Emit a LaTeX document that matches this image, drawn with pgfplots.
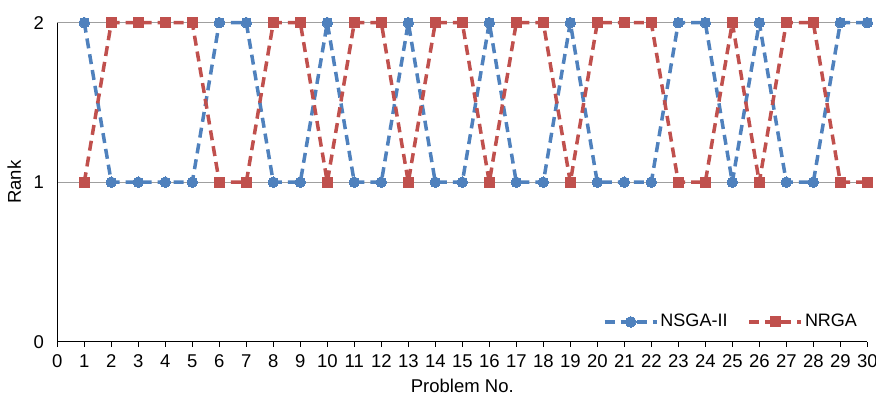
\documentclass[border=0pt]{standalone}
\usepackage{fontspec}
\setmainfont{Liberation Sans}
\usepackage{pgfplots}
\pgfplotsset{compat=1.18}
\definecolor{nsga}{RGB}{79,129,189}
\definecolor{nrga}{RGB}{192,80,77}
\begin{document}
\fontsize{18.5}{21}\selectfont
\begin{tikzpicture}
\begin{axis}[
  name=ax,
  scale only axis,
  width=810pt, height=319pt,
  xmin=0, xmax=30, ymin=0, ymax=2,
  enlargelimits=false,
  clip=false,
  axis lines*=left,
  axis line style={black, line width=1.2pt},
  xtick={0,1,...,30},
  ytick={0,1,2},
  x tick style={black, line width=1.2pt},
  tick align=outside,
  major tick length=5pt,
  y tick style={draw=none},
  ymajorgrids,
  grid style={gray!75, line width=1.2pt},
  /pgf/number format/assume math mode=true,
  ticklabel style={font=\fontsize{18.5}{21}\selectfont},
  xticklabel style={yshift=-2pt},
  yticklabel style={xshift=-2pt},
  xlabel={Problem No.},
  ylabel={Rank},
  xlabel style={yshift=2pt},
  label style={font=\fontsize{18.5}{21}\selectfont},
  legend style={draw=none, fill=none, at={(0.99,0.062)}, anchor=east, inner sep=0pt,
    font=\fontsize{18}{21}\selectfont},
  legend columns=2,
  legend cell align=left,
  /tikz/every even column/.append style={column sep=18pt},
  legend image code/.code={\draw[mark repeat=2,mark phase=2,#1] plot coordinates {(0pt,0pt) (26pt,0pt) (52pt,0pt)};},
]
\addplot[nsga, line width=3.5pt, line join=round, dash pattern=on 10pt off 6pt, mark=*, mark size=5.3pt, mark options={solid, fill=nsga, draw=nsga, line width=0pt}]
coordinates {(1,2)(2,1)(3,1)(4,1)(5,1)(6,2)(7,2)(8,1)(9,1)(10,2)(11,1)(12,1)(13,2)(14,1)(15,1)(16,2)(17,1)(18,1)(19,2)(20,1)(21,1)(22,1)(23,2)(24,2)(25,1)(26,2)(27,1)(28,1)(29,2)(30,2)};
\addlegendentry{NSGA-II}
\addplot[nrga, line width=3.5pt, line join=round, dash pattern=on 10pt off 6pt, mark=square*, mark size=5pt, mark options={solid, fill=nrga, draw=nrga, line width=0pt}]
coordinates {(1,1)(2,2)(3,2)(4,2)(5,2)(6,1)(7,1)(8,2)(9,2)(10,1)(11,2)(12,2)(13,1)(14,2)(15,2)(16,1)(17,2)(18,2)(19,1)(20,2)(21,2)(22,2)(23,1)(24,1)(25,2)(26,1)(27,2)(28,2)(29,1)(30,1)};
\addlegendentry{NRGA}
\end{axis}
\pgfresetboundingbox
\path[use as bounding box] ([shift={(-57.3pt,-56.3pt)}]ax.south west) rectangle +(876pt,398pt);
\end{tikzpicture}
\end{document}
